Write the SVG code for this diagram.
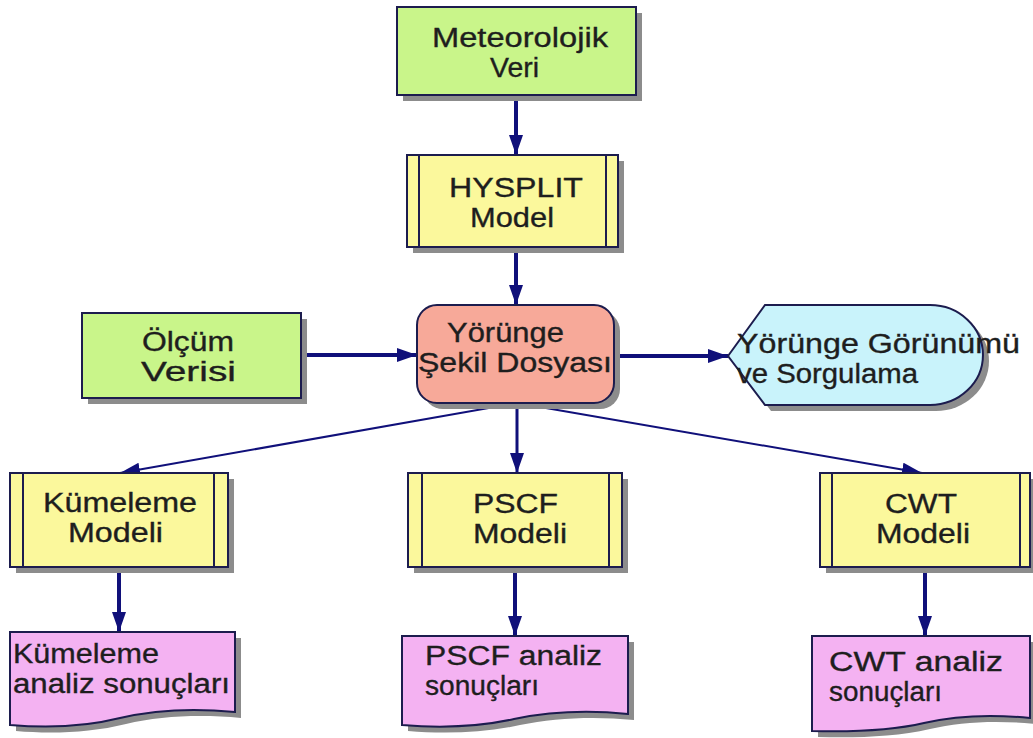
<svg xmlns="http://www.w3.org/2000/svg" width="1033" height="738" viewBox="0 0 1033 738">
<style>
.sh{fill:#8c8c8c;stroke:none}
.bd{stroke:#1c1c4e;stroke-width:2}
.g{fill:#c9f58a}
.y{fill:#fbf89c}
.s{fill:#f7a999}
.c{fill:#c9f3fb}
.p{fill:#f4b2f2}
.t{font-family:"Liberation Sans",Arial,sans-serif;font-size:26.8px;fill:#1e1e1e;stroke:#1e1e1e;stroke-width:0.35}
.cn{stroke:#10107a;fill:none}
</style>
<defs>
<marker id="ah" markerUnits="userSpaceOnUse" markerWidth="22" markerHeight="16" refX="20" refY="7" orient="auto">
<path d="M0,0 L20,7 L0,14 Z" fill="#10107a"/>
</marker>
</defs>
<rect width="1033" height="738" fill="#fff"/>
<g id="connectors">
<line class="cn" x1="516" y1="95" x2="516" y2="155" stroke-width="4" marker-end="url(#ah)"/>
<line class="cn" x1="516" y1="247" x2="516" y2="305" stroke-width="4" marker-end="url(#ah)"/>
<line class="cn" x1="301" y1="355" x2="417" y2="355" stroke-width="4" marker-end="url(#ah)"/>
<line class="cn" x1="614" y1="356" x2="728" y2="356" stroke-width="4" marker-end="url(#ah)"/>
<line class="cn" x1="517" y1="403" x2="120" y2="473" stroke-width="2" marker-end="url(#ah)"/>
<line class="cn" x1="517" y1="403" x2="517" y2="473" stroke-width="3" marker-end="url(#ah)"/>
<line class="cn" x1="517" y1="403" x2="922" y2="473" stroke-width="2" marker-end="url(#ah)"/>
<line class="cn" x1="119" y1="567" x2="119" y2="632" stroke-width="4" marker-end="url(#ah)"/>
<line class="cn" x1="515" y1="567" x2="515" y2="636" stroke-width="4" marker-end="url(#ah)"/>
<line class="cn" x1="925" y1="567" x2="925" y2="636" stroke-width="4" marker-end="url(#ah)"/>
</g>
<g id="meteorolojik">
<rect class="sh" x="403" y="13" width="239" height="88"/>
<rect class="g bd" x="397" y="7" width="239" height="88"/>
<text class="t" x="432" y="47" textLength="176" lengthAdjust="spacingAndGlyphs">Meteorolojik</text>
<text class="t" x="490" y="77" textLength="49" lengthAdjust="spacingAndGlyphs">Veri</text>
</g>
<g id="hysplit">
<rect class="sh" x="413" y="161" width="211" height="92"/>
<rect class="y bd" x="407" y="155" width="211" height="92"/>
<line class="bd" x1="419" y1="155" x2="419" y2="247"/>
<line class="bd" x1="606" y1="155" x2="606" y2="247"/>
<text class="t" x="449" y="197" textLength="134" lengthAdjust="spacingAndGlyphs">HYSPLIT</text>
<text class="t" x="470" y="227" textLength="84" lengthAdjust="spacingAndGlyphs">Model</text>
</g>
<g id="olcum">
<rect class="sh" x="88" y="319" width="219" height="85"/>
<rect class="g bd" x="82" y="313" width="219" height="85"/>
<text class="t" x="142" y="351" textLength="92" lengthAdjust="spacingAndGlyphs">Ölçüm</text>
<text class="t" x="141" y="381" textLength="95" lengthAdjust="spacingAndGlyphs">Verisi</text>
</g>
<g id="yorunge">
<rect class="sh" x="423" y="311" width="197" height="98" rx="20"/>
<rect class="s bd" x="417" y="305" width="197" height="98" rx="20"/>
<text class="t" x="447" y="342" textLength="117" lengthAdjust="spacingAndGlyphs">Yörünge</text>
<text class="t" x="418" y="372" textLength="194" lengthAdjust="spacingAndGlyphs">Şekil Dosyası</text>
</g>
<g id="gorunum">
<path class="sh" d="M734,362 L771,311 H936 A53,50 0 0 1 936,411 H771 Z"/>
<path class="c bd" d="M728,356 L765,305 H930 A53,50 0 0 1 930,405 H765 Z"/>
<text class="t" x="737" y="353" textLength="283" lengthAdjust="spacingAndGlyphs">Yörünge Görünümü</text>
<text class="t" x="737" y="383" textLength="181" lengthAdjust="spacingAndGlyphs">ve Sorgulama</text>
</g>
<g id="kumeleme">
<rect class="sh" x="16" y="479" width="218" height="94"/>
<rect class="y bd" x="10" y="473" width="218" height="94"/>
<line class="bd" x1="23" y1="473" x2="23" y2="567"/>
<line class="bd" x1="214" y1="473" x2="214" y2="567"/>
<text class="t" x="43" y="512" textLength="154" lengthAdjust="spacingAndGlyphs">Kümeleme</text>
<text class="t" x="68" y="542" textLength="95" lengthAdjust="spacingAndGlyphs">Modeli</text>
</g>
<g id="pscf">
<rect class="sh" x="414" y="479" width="214" height="94"/>
<rect class="y bd" x="408" y="473" width="214" height="94"/>
<line class="bd" x1="422" y1="473" x2="422" y2="567"/>
<line class="bd" x1="609" y1="473" x2="609" y2="567"/>
<text class="t" x="473" y="513" textLength="85" lengthAdjust="spacingAndGlyphs">PSCF</text>
<text class="t" x="473" y="543" textLength="94" lengthAdjust="spacingAndGlyphs">Modeli</text>
</g>
<g id="cwt">
<rect class="sh" x="826" y="479" width="210" height="94"/>
<rect class="y bd" x="820" y="473" width="210" height="94"/>
<line class="bd" x1="832" y1="473" x2="832" y2="567"/>
<line class="bd" x1="1020" y1="473" x2="1020" y2="567"/>
<text class="t" x="885" y="513" textLength="72" lengthAdjust="spacingAndGlyphs">CWT</text>
<text class="t" x="876" y="543" textLength="94" lengthAdjust="spacingAndGlyphs">Modeli</text>
</g>
<g id="kumeleme-sonuc">
<path class="sh" d="M16,638 H241 V718 C200,714 160,716 126,724 C90,733 50,734 16,731 Z"/>
<path class="p bd" d="M10,632 H235 V712 C194,708 154,710 120,718 C84,727 44,728 10,725 Z"/>
<text class="t" x="13" y="663" textLength="146" lengthAdjust="spacingAndGlyphs">Kümeleme</text>
<text class="t" x="13" y="693" textLength="217" lengthAdjust="spacingAndGlyphs">analiz sonuçları</text>
</g>
<g id="pscf-sonuc">
<path class="sh" d="M408,642 H634 V720 C594,716 554,718 520,725 C484,733 444,734 408,731 Z"/>
<path class="p bd" d="M402,636 H628 V714 C588,710 548,712 514,719 C478,727 438,728 402,725 Z"/>
<text class="t" x="425" y="665" textLength="177" lengthAdjust="spacingAndGlyphs">PSCF analiz</text>
<text class="t" x="425" y="695" textLength="114" lengthAdjust="spacingAndGlyphs">sonuçları</text>
</g>
<g id="cwt-sonuc">
<path class="sh" d="M818,642 H1036 V724 C996,720 960,722 930,729 C896,737 856,738 818,737 Z"/>
<path class="p bd" d="M812,636 H1030 V718 C990,714 954,716 924,723 C890,731 850,732 812,731 Z"/>
<text class="t" x="829" y="671" textLength="174" lengthAdjust="spacingAndGlyphs">CWT analiz</text>
<text class="t" x="829" y="701" textLength="113" lengthAdjust="spacingAndGlyphs">sonuçları</text>
</g>
</svg>
